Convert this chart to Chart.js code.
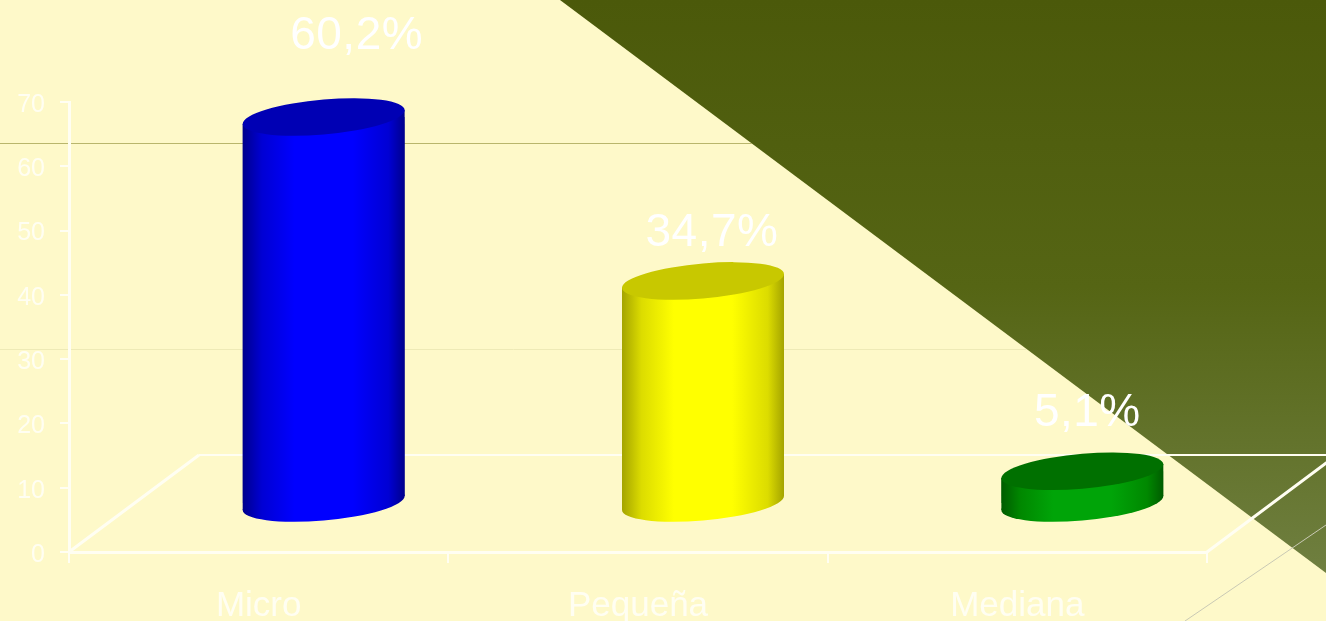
<!DOCTYPE html>
<html>
<head>
<meta charset="utf-8">
<title>Micro, Pequeña, Mediana</title>
<script src="https://cdn.jsdelivr.net/npm/chart.js@4"></script>
<style>
  html, body { margin: 0; padding: 0; background: #fef9c9; overflow: hidden; }
  canvas { display: block; }
</style>
</head>
<body>
<canvas id="barChart" width="1326" height="621"></canvas>
<script>
var categories = ['Micro', 'Pequeña', 'Mediana'];
var values = [60.2, 34.7, 5.1];
var yTicks = [0, 10, 20, 30, 40, 50, 60, 70];

// colours per bar: edge, shade, side highlight, top cap
var edgeColors = ['#00008c', '#a4a400', '#005c00'];
var shadeColors = ['#0000d4', '#dcdc00', '#008800'];
var sideColors = ['#0000ff', '#ffff00', '#00a408'];
var capColors = ['#0000b4', '#c8c800', '#007000'];

// label offset from the top of each cylinder
var labelDx = [33, 9, 5];
var labelDy = [81, 48, 58];

var white = '#fffef2';
var depthX = 130, depthY = 97;   // floor depth
var barDx = 65, barDy = 48;      // cylinders stand in the middle of the floor
var capShear = 0.085;
var capRadius = 17.5;

function sideFill(c) {
  if (c.type !== 'data') return sideColors[0];
  var g = c.chart.ctx;
  var x = c.chart.scales.x.getPixelForValue(c.dataIndex);
  // scales have no pixels yet on the first pass
  if (!isFinite(x)) return sideColors[c.dataIndex];
  var w = 81;
  var grad = g.createLinearGradient(x - w, 0, x + w, 0);
  grad.addColorStop(0, edgeColors[c.dataIndex]);
  grad.addColorStop(0.12, shadeColors[c.dataIndex]);
  grad.addColorStop(0.32, sideColors[c.dataIndex]);
  grad.addColorStop(0.68, sideColors[c.dataIndex]);
  grad.addColorStop(0.9, shadeColors[c.dataIndex]);
  grad.addColorStop(1, edgeColors[c.dataIndex]);
  return grad;
}

// a circle seen from the side and above, sheared so the walls meet it on a tangent
function fillCap(g, x, y, w, fill) {
  g.save();
  g.transform(1, -capShear, 0, 1, 0, y + capShear * x);
  g.fillStyle = fill;
  g.beginPath();
  g.ellipse(x, 0, w / 2, capRadius, 0, 0, Math.PI * 2);
  g.fill();
  g.restore();
}

var cylinderPlugin = {
  id: 'cylinder',
  beforeDraw: function(chart) {
    var g = chart.ctx;
    g.save();
    g.fillStyle = '#fef9c9';
    g.fillRect(0, 0, chart.width, chart.height);

    var grad = g.createLinearGradient(0, 0, 0, 573);
    grad.addColorStop(0, '#4b590a');
    grad.addColorStop(0.5, '#556514');
    grad.addColorStop(1, '#6f7f40');
    g.fillStyle = grad;
    g.beginPath();
    g.moveTo(560, 0);
    g.lineTo(1326, 0);
    g.lineTo(1326, 573);
    g.closePath();
    g.fill();

    g.lineWidth = 1;
    g.strokeStyle = '#b9b66c';
    g.beginPath();
    g.moveTo(0, 143.5);
    g.lineTo(752, 143.5);
    g.stroke();
    g.strokeStyle = '#eeeab6';
    g.beginPath();
    g.moveTo(0, 349.5);
    g.lineTo(1027, 349.5);
    g.stroke();
    g.strokeStyle = '#c9c9b4';
    g.beginPath();
    g.moveTo(1185, 621);
    g.lineTo(1326, 525);
    g.stroke();
    g.restore();
  },
  beforeDatasetsDraw: function(chart) {
    var g = chart.ctx, a = chart.chartArea;
    var bars = chart.getDatasetMeta(0).data;

    // floor outline
    g.save();
    g.strokeStyle = white;
    g.lineWidth = 2;
    g.beginPath();
    g.moveTo(a.left + depthX, a.bottom - depthY);
    g.lineTo(a.right + depthX, a.bottom - depthY);
    g.stroke();
    g.lineWidth = 3;
    g.beginPath();
    g.moveTo(a.left, a.bottom);
    g.lineTo(a.left + depthX, a.bottom - depthY);
    g.moveTo(a.right, a.bottom);
    g.lineTo(a.right + depthX, a.bottom - depthY);
    g.stroke();
    g.restore();

    g.save();
    g.translate(barDx, -barDy);
    bars.forEach(function(bar) {
      var hw = bar.width / 2, lift = hw * capShear;
      fillCap(g, bar.x, bar.base, bar.width, bar.options.backgroundColor);
      // wall ends follow the tilt of the caps, the bar itself fills the rest
      g.fillStyle = bar.options.backgroundColor;
      g.beginPath();
      g.moveTo(bar.x - hw, bar.y + lift);
      g.lineTo(bar.x + hw, bar.y - lift);
      g.lineTo(bar.x + hw, bar.base - lift);
      g.lineTo(bar.x - hw, bar.base + lift);
      g.closePath();
      g.fill();
    });
    // keep the square bar corners inside those walls
    g.beginPath();
    bars.forEach(function(bar) {
      var hw = bar.width / 2, lift = hw * capShear;
      g.moveTo(bar.x - hw, bar.y + lift);
      g.lineTo(bar.x + hw, bar.y - lift);
      g.lineTo(bar.x + hw, bar.base - lift);
      g.lineTo(bar.x - hw, bar.base + lift);
      g.closePath();
    });
    g.clip();
  },
  afterDatasetsDraw: function(chart) {
    var g = chart.ctx;
    var bars = chart.getDatasetMeta(0).data;
    g.restore();

    g.save();
    g.translate(barDx, -barDy);
    bars.forEach(function(bar, i) {
      fillCap(g, bar.x, bar.y, bar.width, capColors[i]);
    });
    g.fillStyle = '#ffffff';
    g.font = '46px "Liberation Sans", Arial, sans-serif';
    g.letterSpacing = '0.5px';
    g.textAlign = 'center';
    g.textBaseline = 'middle';
    bars.forEach(function(bar, i) {
      var text = values[i].toFixed(1).replace('.', ',') + '%';
      g.fillText(text, bar.x + labelDx[i], bar.y - labelDy[i]);
    });
    g.restore();
  }
};

var ctx = document.getElementById('barChart').getContext('2d');
var myBarChart = new Chart(ctx, {
  type: 'bar',
  data: {
    labels: categories,
    datasets: [
      {
        data: values,
        backgroundColor: sideFill,
        borderWidth: 0,
        barPercentage: 0.427,
        categoryPercentage: 1,
      },
    ],
  },
  options: {
    responsive: false,
    animation: false,
    layout: { padding: { top: 102, right: 119 } },
    plugins: { legend: { display: false }, tooltip: { enabled: false } },
    scales: {
      x: {
        afterFit: function(s) { s.height = 69; },
        border: { color: white, width: 3 },
        grid: { color: white, drawOnChartArea: false, tickLength: 11, lineWidth: 2 },
        ticks: {
          color: white,
          padding: 22,
          maxRotation: 0,
          font: { family: '"Liberation Sans", Arial, sans-serif', size: 35 },
        },
      },
      y: {
        min: 0,
        max: 70,
        afterFit: function(s) { s.width = 69; },
        afterBuildTicks: function(s) {
          s.ticks = yTicks.map(function(v) { return { value: v }; });
        },
        border: { color: white, width: 3 },
        grid: { color: white, drawOnChartArea: false, tickLength: 9, lineWidth: 2 },
        ticks: {
          color: white,
          padding: 15,
          labelOffset: 3,
          font: { family: '"Liberation Sans", Arial, sans-serif', size: 25 },
        },
      },
    },
  },
  plugins: [cylinderPlugin],
});
</script>
</body>
</html>
